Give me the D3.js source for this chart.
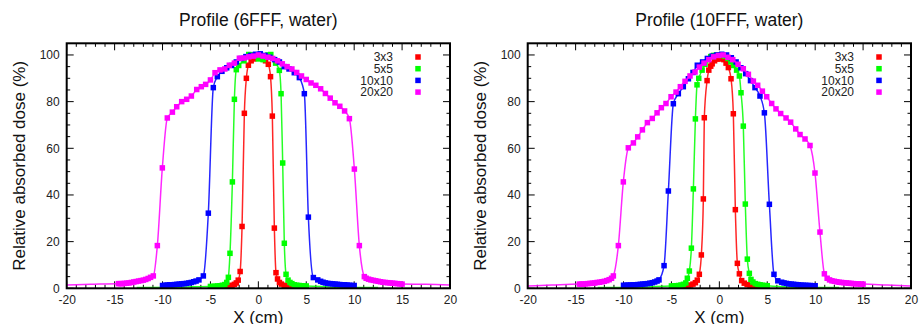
<!DOCTYPE html>
<html><head><meta charset="utf-8">
<script src="https://cdn.jsdelivr.net/npm/d3@7"></script>
<style>
html,body{margin:0;padding:0;background:#fff;}
svg{display:block;font-family:"Liberation Sans",Arial,Helvetica,sans-serif;}
</style></head>
<body><svg id="c" width="919" height="324"></svg>
<script>
// ---------- data ----------
const seriesNames = ["3x3","5x5","10x10","20x20"];
const seriesColors = ["#ff0000","#00ff00","#0000ff","#ff00ff"];
const panelTitles = ["Profile (6FFF, water)","Profile (10FFF, water)"];
const xTicks = [-20,-15,-10,-5,0,5,10,15,20];
const yTicks = [0,20,40,60,80,100];
const xLabel = "X (cm)";
const yLabel = "Relative absorbed dose (%)";

// 6FFF measured points [x cm, dose %]
const p6_3x3 = [[-4,0.5],[-3.5,0.7],[-3,1],[-2.75,1.3],[-2.5,1.7],[-2.3,2.3],[-2.1,3.5],[-1.9,7.2],[-1.7,26.5],[-1.46,75],[-1.25,90],[-1.04,95.6],[-0.75,97.5],[-0.5,98.3],[-0.25,98.8],[0,99],[0.25,98.8],[0.5,98.3],[0.75,97.5],[1.04,96],[1.27,90.7],[1.46,73.8],[1.67,25.8],[1.84,6.7],[2.0,4],[2.2,2.5],[2.4,1.8],[2.7,1.3],[3,1],[3.5,0.7],[4,0.5]];
const p6_5x5 = [[-5,0.8],[-4.75,0.8],[-4.5,0.9],[-4.25,1],[-4,1.1],[-3.75,1.3],[-3.5,1.6],[-3.3,2.5],[-3.13,4.7],[-2.96,15],[-2.71,45.6],[-2.5,81],[-2.3,93.7],[-2.05,95.5],[-1.5,97.5],[-1.0,100.2],[-0.5,100],[0,98.3],[0.5,98],[1,100],[1.3,100.2],[1.8,96.5],[2.19,93.4],[2.37,83.4],[2.54,53.7],[2.71,19.3],[2.89,6],[3.1,3.5],[3.3,2.5],[3.5,2],[3.75,1.5],[4,1.3],[4.25,1.2],[4.5,1.1],[4.75,1],[5,1]];
const p6_10x10 = [[-10,1.2],[-9.75,1.3],[-9.5,1.4],[-9.25,1.5],[-9,1.5],[-8.75,1.6],[-8.5,1.7],[-8.25,1.8],[-8,1.9],[-7.75,2],[-7.5,2.1],[-7.25,2.3],[-7,2.5],[-6.75,2.8],[-6.5,3.1],[-6.2,3.6],[-5.74,5.3],[-5.22,32.2],[-4.7,86],[-4.28,90.7],[-3.8,93],[-3.3,94.5],[-2.8,95.5],[-2.3,97],[-1.8,98.5],[-1.3,99.3],[-0.8,99.8],[-0.3,100.3],[0.2,100.5],[0.7,99.8],[1.2,99],[1.7,98],[2.2,97],[2.7,95],[3.2,94],[3.75,92.4],[4.28,90.3],[4.8,83.4],[5.22,30.5],[5.74,4.6],[6.2,3.6],[6.5,3],[6.75,2.6],[7,2.3],[7.25,2.1],[7.5,2],[7.75,1.9],[8,1.8],[8.25,1.7],[8.5,1.6],[8.75,1.5],[9,1.5],[9.25,1.4],[9.5,1.3],[9.75,1.2],[10,1.2]];
const p6_20x20 = [[-14.6,2],[-14.4,2],[-14.2,2],[-14,2.1],[-13.75,2.2],[-13.5,2.3],[-13.25,2.5],[-13,2.7],[-12.75,2.9],[-12.5,3.1],[-12.25,3.3],[-12,3.5],[-11.75,3.8],[-11.5,4.2],[-11.25,4.7],[-10.96,5.3],[-10.54,18.3],[-10.02,51.6],[-9.5,73],[-8.97,75.5],[-8.52,77.8],[-8,80],[-7.48,81],[-6.99,82.4],[-6.43,85.2],[-5.95,86.4],[-5.5,87.4],[-5,89.3],[-4.52,92.4],[-4,93.6],[-3.5,94],[-3.03,95.6],[-2.5,96.5],[-1.98,98.6],[-1.5,98.7],[-1,99.2],[-0.5,99.5],[0,100],[0.5,99.5],[1,99],[1.5,98.5],[2,97.5],[2.5,96.2],[3,95],[3.5,94],[4,92.5],[4.5,91],[5,89.5],[5.5,88],[6,87],[6.5,85.5],[7,83.5],[7.5,81.5],[8,79.5],[8.5,78],[9,76],[9.5,72.7],[10.02,51.1],[10.54,18.3],[11.06,5],[11.25,4.3],[11.5,3.9],[11.75,3.6],[12,3.4],[12.25,3.2],[12.5,3],[12.75,2.8],[13,2.6],[13.25,2.5],[13.5,2.4],[13.75,2.3],[14,2.2],[14.25,2.1],[14.5,2],[14.75,1.9],[15,1.8]];
// 6FFF calculated-curve extensions beyond the measured range
const t6_3x3 = [[-5,0.3],[5,0.3]];
const t6_5x5 = [[-12.7,0.3],[-8,0.5],[8,0.5],[12.5,0.3]];
const t6_10x10 = [];
const t6_20x20 = [[-20,1.4],[-17.5,1.7],[17.5,1.7],[20,1.4]];

// 10FFF measured points
const p10_3x3 = [[-4,0.5],[-3.75,0.7],[-3.5,0.9],[-3.25,1.1],[-3,1.4],[-2.75,1.8],[-2.5,2.4],[-2.3,3.5],[-2.09,6],[-1.88,14.3],[-1.67,38.3],[-1.57,73.1],[-1.28,89],[-1.1,93.5],[-0.9,95.2],[-0.75,96.2],[-0.5,97.5],[-0.25,98.2],[0,98.5],[0.25,98.3],[0.48,98],[0.7,96.5],[0.94,94.6],[1.22,89.8],[1.46,74.8],[1.67,33.7],[1.88,10.7],[2.09,6.2],[2.33,3.3],[2.6,2.2],[2.9,1.6],[3.25,1.2],[3.5,1],[3.75,0.8],[4,0.6]];
const p10_5x5 = [[-5,1],[-4.75,1],[-4.5,1.1],[-4.25,1.2],[-4,1.4],[-3.75,1.7],[-3.5,2.3],[-3.34,4.3],[-3.13,7.4],[-2.92,17.2],[-2.71,42.6],[-2.5,72.6],[-2.33,87.2],[-2.15,90],[-1.8,93.5],[-1.5,96],[-1.2,98],[-0.9,99.3],[-0.6,99.8],[-0.3,100],[0,100],[0.3,99.8],[0.6,99.5],[0.9,98.5],[1.2,97],[1.5,95.5],[1.8,93.5],[2.09,91],[2.26,83.8],[2.5,69.5],[2.71,36.1],[2.92,12.5],[3.13,6.4],[3.3,3.8],[3.5,2.7],[3.75,2],[4,1.7],[4.25,1.5],[4.5,1.3],[4.75,1.2],[5,1.1]];
const p10_10x10 = [[-10,1.3],[-9.75,1.3],[-9.5,1.4],[-9.25,1.4],[-9,1.5],[-8.75,1.5],[-8.5,1.6],[-8.25,1.7],[-8,1.8],[-7.75,1.9],[-7.5,2],[-7.25,2.2],[-7,2.4],[-6.75,2.7],[-6.5,3.1],[-6.3,3.6],[-5.77,9.7],[-5.32,41.7],[-4.8,79.1],[-4.28,83.4],[-3.76,86.4],[-3.23,89.8],[-2.75,92.5],[-2.3,95.6],[-1.75,97],[-1.25,98.5],[-0.75,99.5],[-0.25,100],[0.25,100.3],[0.75,100],[1.25,98.8],[1.75,97],[2.25,94.5],[2.75,92],[3.25,89],[3.72,86],[4.24,82.4],[4.7,75.2],[5.22,36],[5.7,6],[6.1,3.2],[6.5,2.6],[6.75,2.3],[7,2.1],[7.25,1.9],[7.5,1.8],[7.75,1.7],[8,1.6],[8.25,1.5],[8.5,1.4],[8.75,1.3],[9,1.3],[9.25,1.2],[9.5,1.2],[9.75,1.1],[10,1.1]];
const p10_20x20 = [[-14.6,1.8],[-14.4,1.8],[-14.2,1.8],[-14,1.9],[-13.75,2],[-13.5,2.1],[-13.25,2.2],[-13,2.3],[-12.75,2.5],[-12.5,2.6],[-12.25,2.8],[-12,3],[-11.75,3.3],[-11.5,3.7],[-11.25,4.3],[-11.06,5.3],[-10.54,18.3],[-10.02,45.6],[-9.5,60.2],[-8.97,62.3],[-8.52,64.9],[-8.03,67.9],[-7.51,71],[-7,72.8],[-6.5,75.2],[-6.05,77.4],[-5.57,79.2],[-5.04,82.1],[-4.52,84.1],[-4.07,86.4],[-3.58,88.7],[-3.06,91],[-2.54,92.7],[-2.09,94.8],[-1.6,96.5],[-1.1,98],[-0.6,99.2],[-0.1,99.8],[0.4,100],[0.9,99],[1.4,98],[1.95,96],[2.5,94.1],[3.03,91.7],[3.55,88.8],[4,87],[4.49,84.5],[4.94,82.1],[5.46,79.2],[5.91,76.9],[6.4,74.9],[6.96,73],[7.44,71.2],[7.97,68.3],[8.42,65.9],[8.94,64],[9.46,61.2],[9.98,49.4],[10.5,24.1],[10.96,6.2],[11.25,4.3],[11.5,3.6],[11.75,3.2],[12,3],[12.25,2.8],[12.5,2.6],[12.75,2.5],[13,2.4],[13.25,2.3],[13.5,2.2],[13.75,2.1],[14,2],[14.25,1.9],[14.5,1.9],[14.75,1.8],[15,1.8]];
const t10_3x3 = [[-5,0.3],[5,0.3]];
const t10_5x5 = [[-12.7,0.3],[-8,0.5],[8,0.5],[12.5,0.3]];
const t10_10x10 = [];
const t10_20x20 = [[-20,1.0],[-17.5,1.4],[17.5,1.4],[20,1.0]];

const panels = [
  {title: panelTitles[0], points:[p6_3x3,p6_5x5,p6_10x10,p6_20x20], tails:[t6_3x3,t6_5x5,t6_10x10,t6_20x20], left:66.7},
  {title: panelTitles[1], points:[p10_3x3,p10_5x5,p10_10x10,p10_20x20], tails:[t10_3x3,t10_5x5,t10_10x10,t10_20x20], left:527.7}
];

// ---------- drawing ----------
const svg = d3.select("#c");
const plotW = 383.3, plotTop = 43.3, plotBottom = 288.3;

panels.forEach((p,pi)=>{
  const g = svg.append("g");
  const x = d3.scaleLinear().domain([-20,20]).range([p.left, p.left+plotW]);
  const y = d3.scaleLinear().domain([0,105]).range([plotBottom, plotTop]);
  const clipId = "clip"+pi;
  svg.append("clipPath").attr("id",clipId).append("rect")
     .attr("x",p.left).attr("y",plotTop).attr("width",plotW).attr("height",plotBottom-plotTop);

  // minor/major ticks, inward on all four sides
  const xMinor = d3.range(-20,21,1), yMinor = d3.range(0,105,5);
  const tk = g.append("g").attr("stroke","#000").attr("stroke-width",1);
  xMinor.forEach(v=>{
    const len = (v%5===0)?7:3.5;
    tk.append("line").attr("x1",x(v)).attr("x2",x(v)).attr("y1",plotBottom).attr("y2",plotBottom-len);
    tk.append("line").attr("x1",x(v)).attr("x2",x(v)).attr("y1",plotTop).attr("y2",plotTop+len);
  });
  yMinor.forEach(v=>{
    const len = (v%20===0)?7:3.5;
    tk.append("line").attr("y1",y(v)).attr("y2",y(v)).attr("x1",p.left).attr("x2",p.left+len);
    tk.append("line").attr("y1",y(v)).attr("y2",y(v)).attr("x1",p.left+plotW).attr("x2",p.left+plotW-len);
  });

  // tick labels via axes (tick lines hidden)
  const xa = d3.axisBottom(x).tickValues(xTicks).tickSize(0).tickPadding(7).tickFormat(d=>String(d));
  const gx = g.append("g").attr("transform",`translate(0,${plotBottom})`).call(xa);
  gx.select(".domain").remove();
  gx.selectAll("text").attr("font-size",12).attr("fill","#222").attr("font-family","Liberation Sans, Arial, sans-serif");
  const ya = d3.axisLeft(y).tickValues(yTicks).tickSize(0).tickPadding(7).tickFormat(d=>String(d));
  const gy = g.append("g").attr("transform",`translate(${p.left},0)`).call(ya);
  gy.select(".domain").remove();
  gy.selectAll("text").attr("font-size",12).attr("fill","#222").attr("font-family","Liberation Sans, Arial, sans-serif");

  // series
  const line = d3.line().x(d=>x(d[0])).y(d=>y(d[1])).curve(d3.curveMonotoneX);
  const plot = g.append("g").attr("clip-path",`url(#${clipId})`);
  p.points.forEach((pts,si)=>{
    const all = pts.concat(p.tails[si]).sort((a,b)=>a[0]-b[0]);
    plot.append("path").attr("d",line(all)).attr("fill","none")
        .attr("stroke",seriesColors[si]).attr("stroke-width",1.5).attr("stroke-opacity",0.85);
    const s = 5.5;
    plot.selectAll(null).data(pts).enter().append("rect")
        .attr("x",d=>x(d[0])-s/2).attr("y",d=>y(d[1])-s/2)
        .attr("width",s).attr("height",s).attr("fill",seriesColors[si]);
  });

  // frame
  g.append("rect").attr("x",p.left).attr("y",plotTop).attr("width",plotW).attr("height",plotBottom-plotTop)
   .attr("fill","none").attr("stroke","#000").attr("stroke-width",2);

  // legend
  const lg = g.append("g");
  seriesNames.forEach((n,si)=>{
    const cy = 57 + si*11.7;
    lg.append("text").attr("x",p.left+326.3).attr("y",cy+4.2).attr("text-anchor","end")
      .attr("font-size",12).attr("fill","#222").text(n);
    lg.append("rect").attr("x",p.left+351.3-2.75).attr("y",cy-2.75).attr("width",5.5).attr("height",5.5)
      .attr("fill",seriesColors[si]);
  });

  // titles & labels
  const cx = p.left + plotW/2;
  g.append("text").attr("x",cx).attr("y",26).attr("text-anchor","middle").attr("font-size",17.5).attr("fill","#111").text(p.title);
  g.append("text").attr("x",cx).attr("y",323).attr("text-anchor","middle").attr("font-size",17).attr("fill","#111").text(xLabel);
  g.append("text").attr("transform",`translate(${p.left-41.5},${(plotTop+plotBottom)/2}) rotate(-90)`)
   .attr("text-anchor","middle").attr("font-size",17).attr("fill","#111").text(yLabel);
});
</script>
</body></html>
